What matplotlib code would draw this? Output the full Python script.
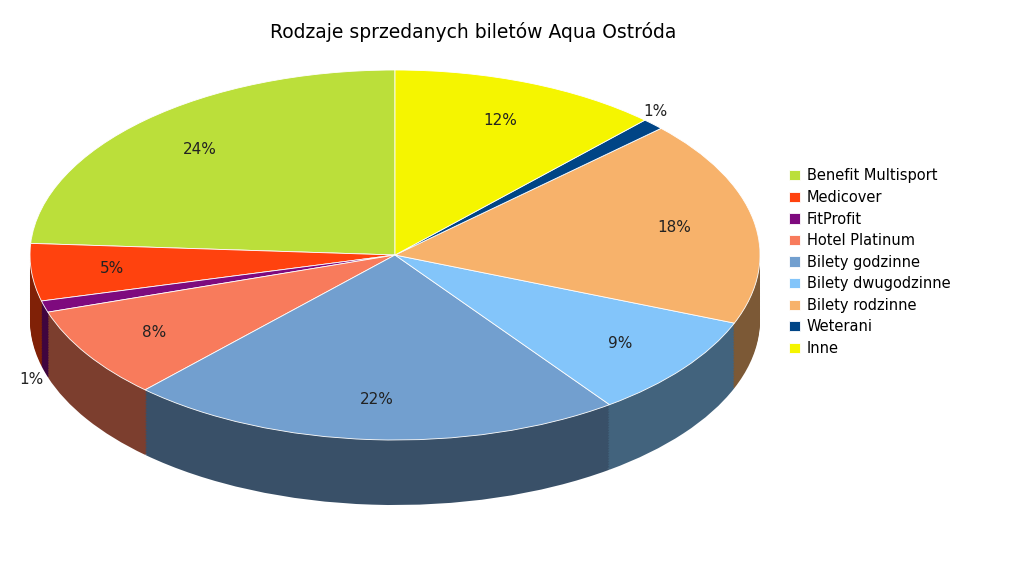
import numpy as np
import matplotlib.pyplot as plt
import matplotlib.colors as mc

labels = ['Benefit Multisport', 'Medicover', 'FitProfit', 'Hotel Platinum', 'Bilety godzinne',
          'Bilety dwugodzinne', 'Bilety rodzinne', 'Weterani', 'Inne']
values = [24, 5, 1, 8, 22, 9, 18, 1, 12]
colors = ['#bbdf3a', '#ff420e', '#7e0a7e', '#f87b5c', '#729fcf',
          '#83c5fa', '#f7b26b', '#004586', '#f5f500']

fig = plt.figure(figsize=(10.24, 5.75), dpi=100)
ax = fig.add_axes([0, 0, 1, 1])
rx, ry = 365, 185
sy = rx / ry

cx, cy = 395, (575 - 255) * sy
depth = 65 * sy

# side wall
steps = 40
dark = [tuple(np.array(mc.to_rgb(c)) * 0.5) for c in colors]
for k in range(steps):
    yy = cy - depth + depth * k / steps
    ax.pie(values, colors=dark, startangle=90, counterclock=True, radius=rx,
           center=(cx, yy), frame=True, wedgeprops=dict(linewidth=0))

wedges, texts, autot = ax.pie(values, colors=colors, startangle=90, counterclock=True, radius=rx,
                              center=(cx, cy), frame=True, autopct='%d%%', pctdistance=0.78,
                              wedgeprops=dict(linewidth=0.6, edgecolor='white'),
                              textprops=dict(fontsize=11, color='#222222'))
ax.set_aspect('auto')
ax.set_xlim(0, 1024)
ax.set_ylim(0, 575 * sy)
ax.axis('off')

# small slices labelled outside
autot[7].set_position((655, (575 - 111) * sy))
autot[2].set_position((31, (575 - 380) * sy))

fig.text(0.462, 0.945, 'Rodzaje sprzedanych biletów Aqua Ostróda', ha='center', va='center', fontsize=13.5)
fig.legend(wedges, labels, loc='upper left', bbox_to_anchor=(0.758, 0.73), frameon=False,
           fontsize=10.5, handlelength=0.7, handleheight=0.7, labelspacing=0.45, handletextpad=0.5)

fig.savefig('out.png', dpi=100)
